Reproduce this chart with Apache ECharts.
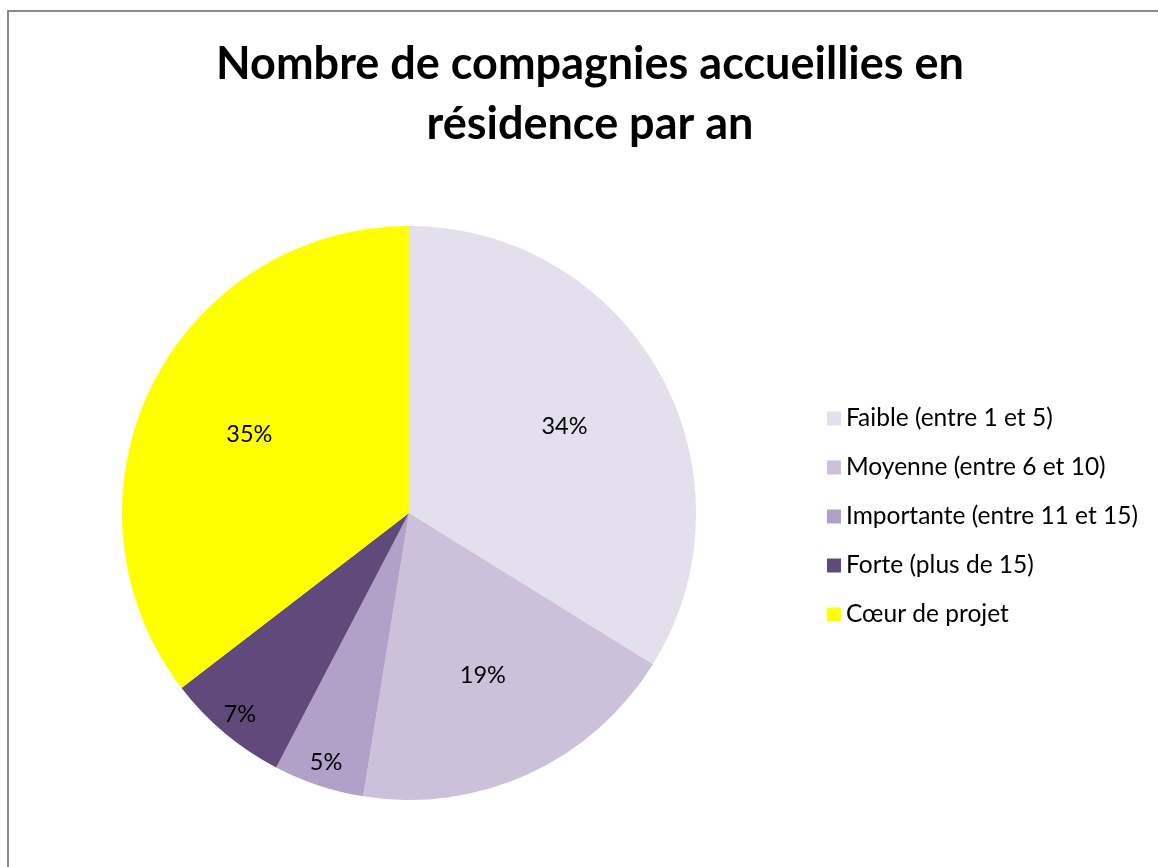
<!DOCTYPE html>
<html>
<head>
<meta charset="utf-8">
<script src="https://cdn.jsdelivr.net/npm/echarts@6/dist/echarts.min.js"></script>
<style>
	html, body { margin: 0; padding: 0; background: #fff; }
	.frame { position: absolute; left: 7px; top: 10px; width: 1160px; height: 870px;
		border-left: 2px solid #8a8a8a; border-top: 2px solid #8a8a8a; }
	#echart { position: absolute; left: 0; top: 0; width: 1158px; height: 867px; }
</style>
</head>
<body>
<div class="frame"></div>
<div id="echart"></div>
<script>
	// catégories et valeurs (en %)
	var categories = ["Faible (entre 1 et 5)", "Moyenne (entre 6 et 10)", "Importante (entre 11 et 15)", "Forte (plus de 15)", "Cœur de projet"];
	var values = [33.8, 18.7, 5.1, 6.9, 35.4];
	var colors = ['#E4DFEC', '#CCC0DA', '#B1A0C7', '#604A7B', '#FFFF00'];
	// petites parts : étiquette plus près du bord
	var smallSlices = [false, false, true, true, false];

	var myChart = echarts.init(document.getElementById('echart'));

	var pieData = categories.map(function (name, i) {
		return { name: name, value: values[i], itemStyle: { color: colors[i] } };
	});

	function labelData(small) {
		return categories.map(function (name, i) {
			return {
				name: name,
				value: values[i],
				itemStyle: { color: 'rgba(0,0,0,0)' },
				label: { show: smallSlices[i] === small }
			};
		});
	}

	var labelStyle = {
		position: 'inside',
		color: '#000',
		fontFamily: 'Lato',
		fontSize: 23.5,
		formatter: function (p) { return Math.round(p.percent) + '%'; }
	};

	var option = {
		animation: false,
		title: {
			text: 'Nombre de compagnies accueillies en\nrésidence par an',
			left: 585,
			top: 29,
			textAlign: 'center',
			textStyle: {
				fontFamily: 'Lato',
				fontWeight: 'bold',
				fontSize: 45,
				lineHeight: 60,
				color: '#000'
			}
		},
		legend: {
			orient: 'vertical',
			left: 822,
			top: 401,
			itemWidth: 14,
			itemHeight: 14,
			itemGap: 24,
			icon: 'rect',
			data: categories,
			textStyle: { fontFamily: 'Lato', fontSize: 24.5, lineHeight: 25, color: '#000' }
		},
		series: [
			{
				type: 'pie',
				center: [409, 513],
				radius: [0, 287],
				startAngle: 90,
				clockwise: true,
				silent: true,
				label: { show: false },
				labelLine: { show: false },
				data: pieData
			},
			{
				type: 'pie',
				center: [409, 513],
				radius: [0, 350],
				startAngle: 90,
				silent: true,
				label: labelStyle,
				labelLine: { show: false },
				data: labelData(false)
			},
			{
				type: 'pie',
				center: [409, 513],
				radius: [0, 520],
				startAngle: 90,
				silent: true,
				label: labelStyle,
				labelLine: { show: false },
				data: labelData(true)
			}
		]
	};

	myChart.setOption(option);
</script>
</body>
</html>
